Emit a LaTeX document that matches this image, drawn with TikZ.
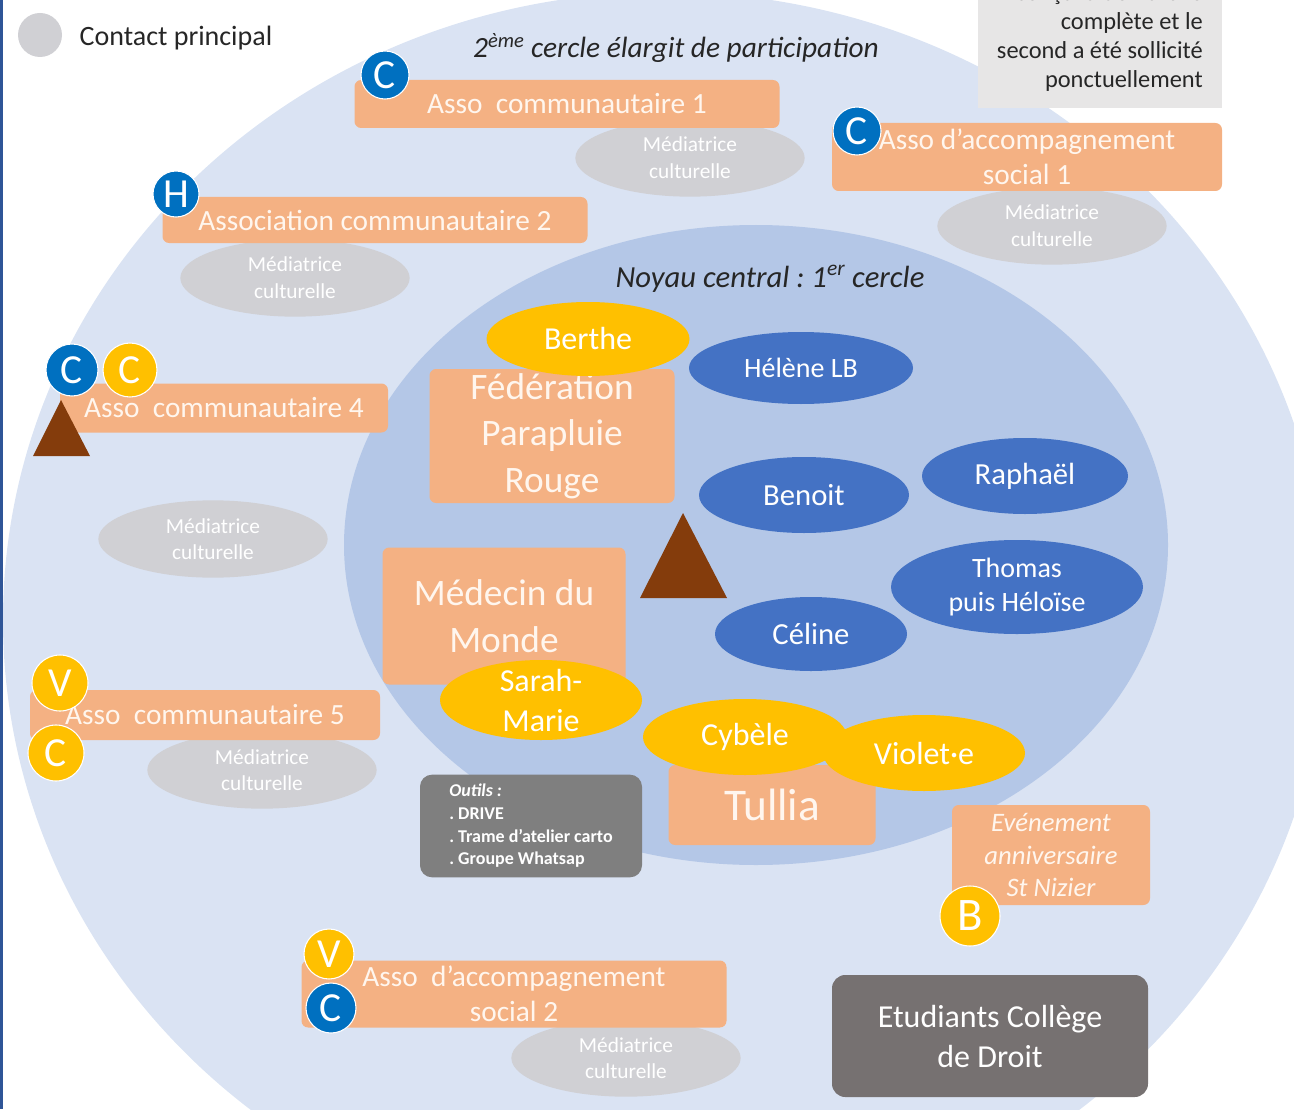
\documentclass[tikz,border=0pt]{standalone}
\usepackage{fontspec}
\setmainfont{Carlito}
\usetikzlibrary{shapes.geometric}
\definecolor{outerblue}{RGB}{218,227,243}
\definecolor{innerblue}{RGB}{180,199,231}
\definecolor{orangebox}{RGB}{244,177,131}
\definecolor{boxtext}{RGB}{255,246,238}
\definecolor{medgray}{RGB}{208,208,212}
\definecolor{bluenode}{RGB}{68,114,196}
\definecolor{yellownode}{RGB}{255,192,0}
\definecolor{badgeblue}{RGB}{0,112,192}
\definecolor{brownmark}{RGB}{132,60,12}
\definecolor{toolgray}{RGB}{127,127,127}
\definecolor{studgray}{RGB}{118,113,113}
\definecolor{notegray}{RGB}{231,230,230}
\definecolor{textdark}{RGB}{38,38,38}
\definecolor{edgeblue}{RGB}{47,85,151}
\frenchspacing
\begin{document}
\begin{tikzpicture}[x=.75pt,y=-.75pt,
	orga/.style 2 args={fill=orangebox,rounded corners=5pt,text=boxtext,align=center,inner sep=0pt,
		minimum width=#1*.75pt,minimum height=#2*.75pt,font=\fontsize{22}{26}\selectfont},
	media/.style={ellipse,fill=medgray,text=white,inner sep=0pt,align=center,
		minimum width=172pt,minimum height=58pt,font=\fontsize{16}{20}\selectfont},
	pers/.style n args={3}{ellipse,fill=#1,text=white,inner sep=0pt,align=center,
		minimum width=#2*.75pt,minimum height=#3*.75pt,font=\fontsize{23}{29}\selectfont},
	badge/.style 2 args={circle,fill=#1,draw=white,line width=.8pt,text=white,inner sep=0pt,
		minimum size=#2*1.5pt,font=\fontsize{31}{31}\selectfont},
	titre/.style={text=textdark,font=\fontsize{22}{26}\selectfont\itshape}]
	\useasboundingbox(0,0)rectangle(1294,1109);
	\clip(0,0)rectangle(1294,1109);
	% cercles
	\fill[outerblue](665,620)ellipse[x radius=662,y radius=628];
	\fill[innerblue](756,545)ellipse[x radius=412,y radius=320];
	\fill[edgeblue](0,0)rectangle(3,1109);
	% legende et note
	\node[circle,fill=medgray,minimum size=33pt,inner sep=0pt](legpoint)at(40,35){};
	\node[anchor=west,text=textdark,font=\fontsize{21}{25}\selectfont](legtext)at(75,38){Contact principal};
	\fill[notegray](978,-5)rectangle(1222,108);
	\foreach \ligne/\yb [count=\i] in {conçu la démarche/1,complète et le/30,second a été sollicité/59,ponctuellement/88}
		\node[anchor=base east,inner sep=0pt,text=textdark,font=\fontsize{18.3}{22}\selectfont](note\i)at(1203,\yb){\ligne};
	\node[titre](cercle2)at(676,48){2\textsuperscript{ème} cercle élargit de participation};
	\node[titre,font=\fontsize{23}{27}\selectfont\itshape](noyau)at(770,279){Noyau central : 1\textsuperscript{er} cercle};
	% mediatrices
	\node[media](media1)at(690,158){Médiatrice\\culturelle};
	\node[media](media2)at(1052,226){Médiatrice\\culturelle};
	\node[media](media3)at(295,278){Médiatrice\\culturelle};
	\node[media](media4)at(213,539){Médiatrice\\culturelle};
	\node[media](media5)at(262,770){Médiatrice\\culturelle};
	\node[media](media6)at(626,1058){Médiatrice\\culturelle};
	% structures
	\node[orga={425}{48}](asso1)at(567,104){Asso\ \ communautaire 1};
	\node[orga={390}{68}](accomp1)at(1027,157){Asso d’accompagnement\\social 1};
	\node[orga={425}{46}](asso2)at(375,220){Association communautaire 2};
	\node[orga={328}{49}](asso4)at(224,408){Asso\ \ communautaire 4};
	\node[orga={350}{50}](asso5)at(205,715){Asso\ \ communautaire 5};
	\node[orga={425}{67}](accomp2)at(514,994){Asso\ \ d’accompagnement\\social 2};
	\node[orga={245}{134},font=\fontsize{28}{35}\selectfont](federation)at(552,436){Fédération\\Parapluie\\Rouge};
	\node[orga={243}{137},font=\fontsize{28}{35}\selectfont](medecin)at(504,616){Médecin du\\Monde};
	\node[orga={207}{80},font=\fontsize{34}{40}\selectfont](tullia)at(772,805){Tullia};
	\node[orga={198}{100},font=\fontsize{20}{24.5}\selectfont\itshape](evenement)at(1051,855){Evénement\\anniversaire\\St Nizier};
	\node[fill=toolgray,rounded corners=9pt,minimum width=166.5pt,minimum height=77pt,inner sep=0pt,
		text=white,align=left,font=\fontsize{13.5}{17}\selectfont\bfseries](outils)at(531,826)
		{\textit{Outils :}\\. DRIVE\\. Trame d’atelier carto\\. Groupe Whatsap};
	\node[fill=studgray,rounded corners=10pt,minimum width=237pt,minimum height=91.5pt,inner sep=0pt,
		text=white,align=center,font=\fontsize{24}{30}\selectfont](etudiants)at(990,1036)
		{Etudiants Collège\\de Droit};
	% personnes
	\node[pers={bluenode}{224}{72},font=\fontsize{21}{25}\selectfont](helene)at(801,368){Hélène LB};
	\node[pers={bluenode}{210}{76}](benoit)at(804,495){Benoit};
	\node[pers={bluenode}{206}{76}](raphael)at(1025,476){Raphaël};
	\node[pers={bluenode}{252}{94},font=\fontsize{21}{25.5}\selectfont](thomas)at(1017,587){Thomas\\puis Héloïse};
	\node[pers={bluenode}{192}{74}](celine)at(811,634){Céline};
	\node[pers={yellownode}{203}{74},font=\fontsize{24}{30}\selectfont](berthe)at(588,339){Berthe};
	\node[pers={yellownode}{202}{80},font=\fontsize{24}{30}\selectfont,inner ysep=-10pt](sarah)at(541,700){Sarah-\\Marie};
	\node[pers={yellownode}{204}{76},font=\fontsize{24}{30}\selectfont](cybele)at(745,737){Cybèle};
	\node[pers={yellownode}{202}{76},font=\fontsize{24}{30}\selectfont](violette)at(924,753){Violet·e};
	% triangles
	\fill[brownmark](683,513)--(727,598)--(640,598)--cycle;
	\fill[brownmark](61,400)--(90,456)--(33,456)--cycle;
	% pastilles
	\node[badge={badgeblue}{24}](cAsso1)at(385,75){C};
	\node[badge={badgeblue}{24}](cAccomp1)at(857,131){C};
	\node[badge={badgeblue}{23}](hAsso2)at(176,194){H};
	\node[badge={badgeblue}{26}](cAsso4)at(72,370){C};
	\node[badge={yellownode}{27}](cjAsso4)at(130,370){C};
	\node[badge={yellownode}{28}](vAsso5)at(60,683){V};
	\node[badge={yellownode}{28}](cAsso5)at(56,753){C};
	\node[badge={yellownode}{30},font=\fontsize{35}{35}\selectfont](bEvent)at(970,916){B};
	\node[badge={yellownode}{25}](vAccomp2)at(329,954){V};
	\node[badge={badgeblue}{25}](cAccomp2)at(331,1008){C};
\end{tikzpicture}
\end{document}
